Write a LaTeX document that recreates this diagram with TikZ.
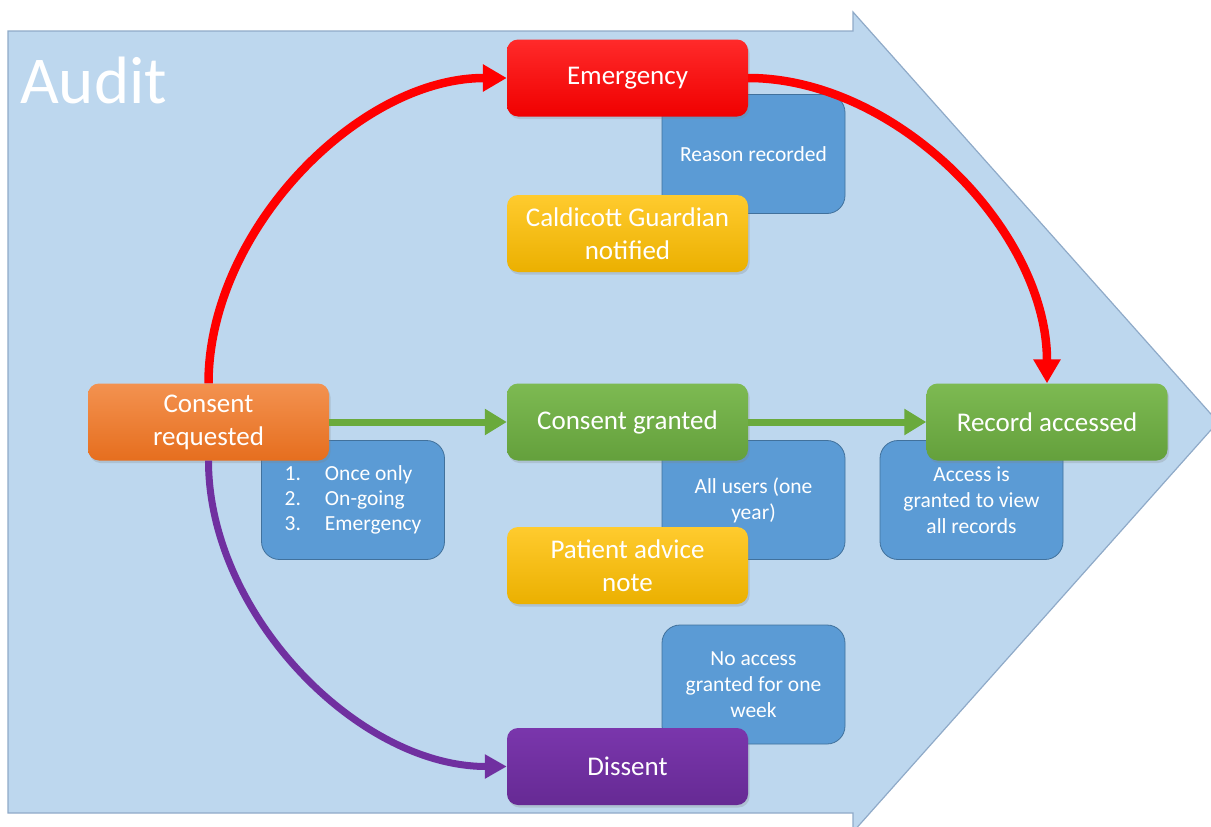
\documentclass[tikz,border=0pt]{standalone}
\usepackage{fontspec}
\setmainfont{Carlito}
\usetikzlibrary{arrows.meta,shadows}
\definecolor{bgfill}{HTML}{BDD7EE}
\definecolor{bgline}{HTML}{8FAAC8}
\definecolor{bluebox}{HTML}{5B9BD5}
\definecolor{blueline}{HTML}{41719C}
\definecolor{redA}{HTML}{FF2A2A}
\definecolor{redB}{HTML}{F00000}
\definecolor{yelA}{HTML}{FFCB2E}
\definecolor{yelB}{HTML}{EBB000}
\definecolor{orA}{HTML}{F39250}
\definecolor{orB}{HTML}{E66E1E}
\definecolor{grA}{HTML}{7DBA52}
\definecolor{grB}{HTML}{64A03C}
\definecolor{puA}{HTML}{7A36AC}
\definecolor{puB}{HTML}{662A94}
\definecolor{redline}{HTML}{FF0000}
\definecolor{greenline}{HTML}{6AAA3C}
\definecolor{purpleline}{HTML}{7030A0}
\tikzset{
  cbox/.style={rectangle, rounded corners=11pt, minimum width=241pt, minimum height=77pt,
    inner sep=0pt, align=center, text=white, font=\fontsize{27}{33}\selectfont,
    drop shadow={opacity=0.25, shadow xshift=1.5pt, shadow yshift=-2.5pt}},
  bbox/.style={rectangle, rounded corners=18pt, minimum width=183pt, minimum height=119pt,
    inner sep=0pt, align=center, text=white, fill=bluebox, draw=blueline, line width=0.8pt,
    font=\fontsize{21.5}{26}\selectfont},
  redbox/.style={cbox, top color=redA, bottom color=redB},
  yelbox/.style={cbox, top color=yelA, bottom color=yelB},
  orbox/.style={cbox, top color=orA, bottom color=orB},
  grbox/.style={cbox, top color=grA, bottom color=grB},
  pubox/.style={cbox, top color=puA, bottom color=puB},
  redarrow/.style={draw=redline, line width=8.5pt, -{Triangle[length=24pt,width=26pt]}},
  greenarrow/.style={draw=greenline, line width=7pt, -{Triangle[length=22pt,width=25pt]}},
  purplearrow/.style={draw=purpleline, line width=7pt, -{Triangle[length=22pt,width=23pt]}},
}
\begin{document}
\begin{tikzpicture}[x=1pt,y=-1pt]
\useasboundingbox (0,0) rectangle (1211,827);
\clip (0,0) rectangle (1211,827);
% big arrow background
\draw[fill=bgfill, draw=bgline, line width=1.2pt]
  (8,31) -- (853,31) -- (853,12) -- (1218,422) -- (853,832) -- (853,813) -- (8,813) -- cycle;
\node[anchor=west, text=white, font=\fontsize{67}{67}\selectfont, inner sep=0pt] (audit) at (20,80) {Audit};
% blue info boxes
\node[bbox] (reason) at (753.5,154) {Reason recorded};
\node[bbox] (list) at (353,500) {%
  \begin{tabular}{@{}l@{\hspace{24pt}}l@{}}1. & Once only\\[-1pt] 2. & On-going\\[-1pt] 3. & Emergency\end{tabular}};
\node[bbox] (allusers) at (753.5,500) {All users (one\\year)};
\node[bbox] (accessbox) at (971.5,500) {Access is\\granted to view\\all records};
\node[bbox] (noaccess) at (753.5,684.5) {No access\\granted for one\\week};
% coloured boxes
\node[redbox] (em) at (627.5,78) {Emergency};
\node[yelbox] (cald) at (627.5,233.5) {Caldicott Guardian\\notified};
\node[orbox] (cr) at (208.5,422) {Consent\\requested};
\node[grbox] (cg) at (627.5,422) {Consent granted};
\node[grbox] (ra) at (1047,422) {Record accessed};
\node[yelbox] (pan) at (627.5,565.5) {Patient advice\\note};
\node[pubox] (dis) at (627.5,766.5) {Dissent};
% connectors
\draw[redarrow] (cr.north) .. controls (208.5,231) and (358,78) .. (em.west);
\draw[redarrow] (em.east) .. controls (897,78) and (1047,231) .. (ra.north);
\draw[greenarrow] (cr.east) -- (cg.west);
\draw[greenarrow] (cg.east) -- (ra.west);
\draw[purplearrow] (cr.south) .. controls (208.5,614) and (358,766.5) .. (dis.west);
\end{tikzpicture}
\end{document}
